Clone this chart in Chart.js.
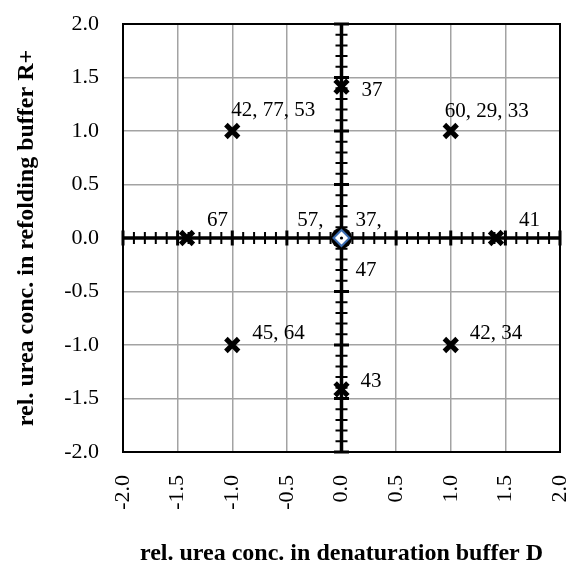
<!DOCTYPE html>
<html lang="en">
<head>
<meta charset="UTF-8">
<title>Urea concentration design</title>
<style>
    html, body {
        margin: 0;
        padding: 0;
        background: #fff;
    }
    #wrap {
        width: 574px;
        height: 566px;
    }
</style>
</head>
<body>
<div id="wrap"><canvas id="myChart" width="574" height="566"></canvas></div>

<script src="https://cdn.jsdelivr.net/npm/chart.js"></script>
<script>
    // design points: rel. urea conc. in D (x) and in R+ (y)
    var xValues = [-1, 0, 1, -1.414, 0, 1.414, -1, 0, 1];
    var yValues = [1, 1.414, 1, 0, 0, 0, -1, -1.414, -1];
    var pointLabels = ['42, 77, 53', '37', '60, 29, 33', '67', '', '41', '45, 64', '43', '42, 34'];

    // centre point (drawn as diamond) carries three labels
    var centerX = [0];
    var centerY = [0];
    var centerLabels = ['57,', '37,', '47'];

    var tickValues = [-2, -1.5, -1, -0.5, 0, 0.5, 1, 1.5, 2];

    // label placement, px from the point: [dx, dy, align]
    var labelOffsets = [[-1, -21], [20, 4], [-6, -20], [20, -18], null, [23, -18], [20, -12], [19, -8], [19, -12]];
    var centerOffsets = [[-18, -18, 'right'], [14, -18], [14, 32]];

    var serif = "'Liberation Serif', 'Times New Roman', serif";

    var axisCross = {
        id: 'axisCross',
        beforeDatasetsDraw: function(chart) {
            var ctx = chart.ctx, a = chart.chartArea;
            var xs = chart.scales.x, ys = chart.scales.y;
            var x0 = xs.getPixelForValue(0), y0 = ys.getPixelForValue(0);
            ctx.save();
            ctx.strokeStyle = '#000';
            ctx.lineWidth = 2;
            ctx.strokeRect(a.left, a.top, a.right - a.left, a.bottom - a.top);

            ctx.lineWidth = 3.5;
            ctx.beginPath();
            ctx.moveTo(a.left, y0); ctx.lineTo(a.right, y0);
            ctx.moveTo(x0, a.top); ctx.lineTo(x0, a.bottom);
            ctx.stroke();

            // cross ticks every 0.1, bigger ones every 0.5
            for (var i = -20; i <= 20; i++) {
                var major = i % 5 === 0;
                var len = major ? 7.5 : 6;
                var px = xs.getPixelForValue(i / 10), py = ys.getPixelForValue(i / 10);
                ctx.lineWidth = major ? 3 : 2;
                ctx.beginPath();
                ctx.moveTo(px, y0 - len); ctx.lineTo(px, y0 + len);
                ctx.moveTo(x0 - len, py); ctx.lineTo(x0 + len, py);
                ctx.stroke();
            }
            ctx.restore();
        }
    };

    var dataLabels = {
        id: 'dataLabels',
        afterDatasetsDraw: function(chart) {
            var ctx = chart.ctx;
            var xs = chart.scales.x, ys = chart.scales.y;
            ctx.save();
            ctx.fillStyle = '#000';
            ctx.font = '21px ' + serif;
            ctx.textBaseline = 'middle';

            function put(text, xv, yv, off) {
                ctx.textAlign = off[2] || 'left';
                ctx.fillText(text, xs.getPixelForValue(xv) + off[0], ys.getPixelForValue(yv) + off[1]);
            }

            for (var i = 0; i < pointLabels.length; i++) {
                if (!pointLabels[i]) continue;
                put(pointLabels[i], xValues[i], yValues[i], labelOffsets[i]);
            }
            for (var j = 0; j < centerLabels.length; j++) {
                put(centerLabels[j], centerX[0], centerY[0], centerOffsets[j]);
            }
            ctx.restore();
        }
    };

    function fixedTicks(scale) {
        scale.ticks = tickValues.map(function(v) { return { value: v }; });
    }

    function centerData() {
        return centerX.map(function(x, i) { return { x: x, y: centerY[i] }; });
    }

    var ctx = document.getElementById('myChart').getContext('2d');
    var myChart = new Chart(ctx, {
        type: 'scatter',
        data: {
            datasets: [
                {
                    data: xValues.map(function(x, i) { return { x: x, y: yValues[i] }; }),
                    order: 4,
                    pointStyle: 'crossRot',
                    pointRadius: 9,
                    pointBorderWidth: 5,
                    borderColor: '#000',
                    backgroundColor: '#000'
                },
                {
                    data: centerData(),
                    order: 3,
                    pointStyle: 'circle',
                    pointRadius: 10.5,
                    pointBorderWidth: 0,
                    backgroundColor: '#000'
                },
                {
                    data: centerData(),
                    order: 2,
                    pointStyle: 'rectRot',
                    pointRadius: 8,
                    pointBorderWidth: 2,
                    borderColor: '#3b6cb0',
                    backgroundColor: '#fff'
                },
                {
                    data: centerData(),
                    order: 1,
                    pointStyle: 'circle',
                    pointRadius: 1.6,
                    pointBorderWidth: 0,
                    backgroundColor: '#000'
                }
            ]
        },
        options: {
            responsive: false,
            animation: false,
            layout: { padding: { top: 24, right: 11, left: 0, bottom: 0 } },
            plugins: {
                legend: { display: false },
                tooltip: { enabled: false }
            },
            scales: {
                x: {
                    type: 'linear',
                    min: -2,
                    max: 2,
                    afterBuildTicks: fixedTicks,
                    afterFit: function(scale) {
                        scale.height = 114;
                        scale.paddingLeft = 0;
                        scale.paddingRight = 0;
                    },
                    grid: { color: '#a3a3a3', lineWidth: 1.5, drawTicks: false },
                    border: { display: false },
                    ticks: {
                        minRotation: 90,
                        maxRotation: 90,
                        padding: 23,
                        color: '#000',
                        font: { family: serif, size: 22 },
                        callback: function(v) { return v.toFixed(1); }
                    },
                    title: {
                        display: true,
                        text: 'rel. urea conc. in denaturation buffer D',
                        color: '#000',
                        font: { family: serif, size: 24, weight: 'bold', lineHeight: 1 },
                        padding: { top: 0, bottom: 0 }
                    }
                },
                y: {
                    type: 'linear',
                    min: -2,
                    max: 2,
                    afterBuildTicks: fixedTicks,
                    afterFit: function(scale) {
                        scale.width = 123;
                        scale.paddingTop = 0;
                        scale.paddingBottom = 0;
                    },
                    grid: { color: '#a3a3a3', lineWidth: 1.5, drawTicks: false },
                    border: { display: false },
                    ticks: {
                        padding: 24,
                        color: '#000',
                        font: { family: serif, size: 22 },
                        callback: function(v) { return v.toFixed(1); }
                    },
                    title: {
                        display: true,
                        text: 'rel. urea conc. in refolding buffer R+',
                        color: '#000',
                        font: { family: serif, size: 24, weight: 'bold', lineHeight: 1.2 },
                        padding: { top: 12, bottom: 0 }
                    }
                }
            }
        },
        plugins: [axisCross, dataLabels]
    });
</script>
</body>
</html>
